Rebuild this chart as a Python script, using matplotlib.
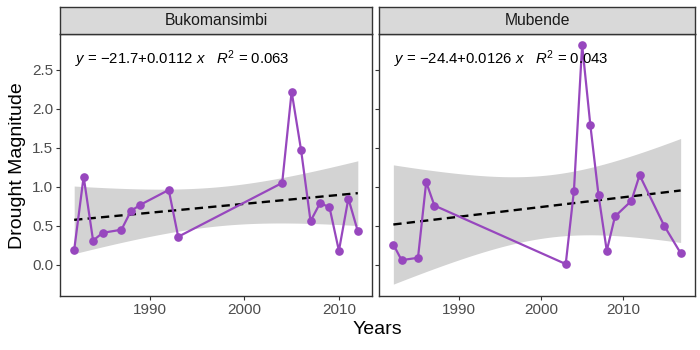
import numpy as np
import matplotlib
matplotlib.use("Agg")
import matplotlib.pyplot as plt

plt.rcParams['font.family'] = ['Liberation Sans', 'DejaVu Sans']
plt.rcParams['mathtext.fontset'] = 'custom'
plt.rcParams['mathtext.rm'] = 'Liberation Sans'
plt.rcParams['mathtext.it'] = 'Liberation Sans:italic'

districts = ["Bukomansimbi", "Mubende"]
years_buk = [1982, 1983, 1984, 1985, 1987, 1988, 1989, 1992, 1993,
             2004, 2005, 2006, 2007, 2008, 2009, 2010, 2011, 2012]
mag_buk = [0.19, 1.13, 0.31, 0.41, 0.45, 0.69, 0.77, 0.96, 0.36,
           1.05, 2.22, 1.47, 0.56, 0.79, 0.74, 0.18, 0.85, 0.43]
years_mub = [1982, 1983, 1985, 1986, 1987, 2003, 2004, 2005, 2006,
             2007, 2008, 2009, 2011, 2012, 2015, 2017]
mag_mub = [0.26, 0.06, 0.09, 1.06, 0.76, 0.01, 0.95, 2.82, 1.79,
           0.89, 0.18, 0.62, 0.82, 1.15, 0.50, 0.15]
eq_labels = [r"$\it{y}$ = $-$21.7$+$0.0112 $\it{x}$   $\it{R}^2$ = 0.063",
             r"$\it{y}$ = $-$24.4$+$0.0126 $\it{x}$   $\it{R}^2$ = 0.043"]
t_crit = [2.120, 2.145]  # 95% t quantiles, df = n - 2
xticks = [1990, 2000, 2010]
yticks = [0.0, 0.5, 1.0, 1.5, 2.0, 2.5]
ytick_labels = ["0.0", "0.5", "1.0", "1.5", "2.0", "2.5"]

W, H = 700, 350
fig = plt.figure(figsize=(7, 3.5), dpi=100)

panels = [(60, 372), (379, 695)]
top, bottom = 34, 296
strip_top = 7
line_col = "#9747BE"

datasets = [(years_buk, mag_buk), (years_mub, mag_mub)]
for i, ((x0, x1), (yrs, mag)) in enumerate(zip(panels, datasets)):
    ax = fig.add_axes([x0 / W, 1 - bottom / H, (x1 - x0) / W, (bottom - top) / H])
    x = np.array(yrs, float)
    y = np.array(mag, float)
    n = len(x)
    b, a = np.polyfit(x, y, 1)
    xs = np.linspace(x.min(), x.max(), 200)
    yhat = a + b * xs
    resid = y - (a + b * x)
    s = np.sqrt(np.sum(resid ** 2) / (n - 2))
    se = s * np.sqrt(1 / n + (xs - x.mean()) ** 2 / np.sum((x - x.mean()) ** 2))
    ax.fill_between(xs, yhat - t_crit[i] * se, yhat + t_crit[i] * se,
                    color="#D3D3D3", lw=0, zorder=1)
    ax.plot(xs, yhat, color="black", ls=(0, (3.5, 2.2)), lw=1.7, zorder=2)
    ax.plot(x, y, color=line_col, lw=1.6, zorder=3)
    ax.plot(x, y, 'o', color=line_col, ms=5.2, zorder=4)
    span = x.max() - x.min()
    ax.set_xlim(x.min() - 0.05 * span, x.max() + 0.05 * span)
    ax.set_ylim(-0.40, 2.96)
    ax.set_xticks(xticks)
    ax.set_yticks(yticks)
    if i == 0:
        ax.set_yticklabels(ytick_labels)
    else:
        ax.set_yticklabels([])
    ax.tick_params(axis='both', labelsize=11, colors="#4D4D4D", length=3,
                   width=0.8, pad=2)
    ax.tick_params(axis='both', which='both', color="#333333")
    for sp in ax.spines.values():
        sp.set_color("#333333")
        sp.set_linewidth(1.0)
    ax.text(0.047, 0.905, eq_labels[i], transform=ax.transAxes, fontsize=10.7,
            ha='left', va='center', color='black')
    # strip
    sax = fig.add_axes([x0 / W, 1 - top / H, (x1 - x0) / W, (top - strip_top) / H])
    sax.set_facecolor("#D9D9D9")
    sax.set_xticks([])
    sax.set_yticks([])
    for sp in sax.spines.values():
        sp.set_color("#333333")
        sp.set_linewidth(1.0)
    sax.text(0.5, 0.5, districts[i], transform=sax.transAxes, ha='center',
             va='center', fontsize=11.3, color="#1A1A1A")

fig.text(377 / W, 1 - 330 / H, "Years", ha='center', va='center', fontsize=14)
fig.text(18 / W, 1 - 166 / H, "Drought Magnitude", ha='center', va='center',
         fontsize=14, rotation=90)

fig.savefig("out.png", dpi=100)
